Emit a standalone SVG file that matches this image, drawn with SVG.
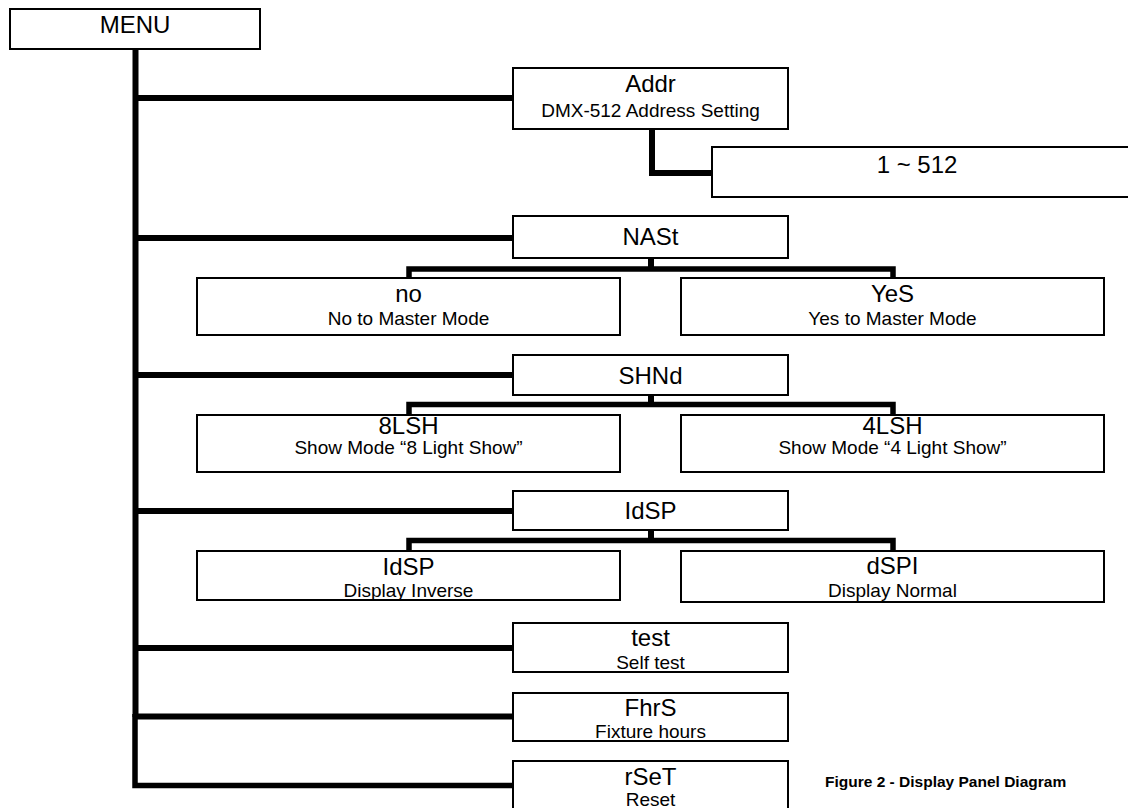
<svg xmlns="http://www.w3.org/2000/svg" width="1128" height="808" viewBox="0 0 1128 808">
<style>
.box{fill:#fff;stroke:#000;stroke-width:2}
.t{font-family:"Liberation Sans",Arial,sans-serif;font-size:24px;fill:#000;text-anchor:middle}
.s{font-family:"Liberation Sans",Arial,sans-serif;font-size:19px;fill:#000;text-anchor:middle}
.c{fill:none;stroke:#000;stroke-width:6;stroke-linecap:butt;stroke-linejoin:miter}
.cap{font-family:"Liberation Sans",Arial,sans-serif;font-size:15.5px;font-weight:bold;fill:#000}
</style>
<rect width="1128" height="808" fill="#fff"/>
<g id="connectors">
<path class="c" d="M135.5,49 V717"/>
<path class="c" style="stroke-width:5.5" d="M135,714 V785.5 H513"/>
<path class="c" d="M135,98 H513"/>
<path class="c" d="M135,238 H513"/>
<path class="c" d="M135,375 H513"/>
<path class="c" d="M135,511 H513"/>
<path class="c" d="M135,648 H513"/>
<path class="c" d="M135,716.5 H513"/>
<path class="c" d="M652,129 V173 H712"/>
<path class="c" d="M651,258 V269"/>
<path class="c" style="stroke-width:5.5" d="M409,278 V269 H893 V278"/>
<path class="c" d="M651,395 V404.5"/>
<path class="c" style="stroke-width:5.5" d="M409,415 V404.5 H893 V415"/>
<path class="c" d="M651,530 V540.5"/>
<path class="c" style="stroke-width:5.5" d="M409,551 V540.5 H893 V551"/>
</g>
<g id="menu"><rect class="box" x="10" y="9" width="250" height="40"/><text class="t" x="135" y="33">MENU</text></g>
<g id="addr"><rect class="box" x="513" y="68" width="275" height="61"/><text class="t" x="650.5" y="92">Addr</text><text class="s" x="650.5" y="117">DMX-512 Address Setting</text></g>
<g id="addr-range"><rect class="box" x="712" y="147" width="430" height="50"/><text class="t" x="917" y="173">1 ~ 512</text></g>
<g id="nast"><rect class="box" x="513" y="216" width="275" height="42"/><text class="t" x="650.5" y="245">NASt</text></g>
<g id="nast-no"><rect class="box" x="197" y="278" width="423" height="57"/><text class="t" x="408.5" y="302">no</text><text class="s" x="408.5" y="325">No to Master Mode</text></g>
<g id="nast-yes"><rect class="box" x="681" y="278" width="423" height="57"/><text class="t" x="892.5" y="302">YeS</text><text class="s" x="892.5" y="325">Yes to Master Mode</text></g>
<g id="shnd"><rect class="box" x="513" y="355" width="275" height="40"/><text class="t" x="650.5" y="384">SHNd</text></g>
<g id="shnd-8"><rect class="box" x="197" y="415" width="423" height="57"/><text class="t" x="408.5" y="434">8LSH</text><text class="s" x="408.5" y="454">Show Mode “8 Light Show”</text></g>
<g id="shnd-4"><rect class="box" x="681" y="415" width="423" height="57"/><text class="t" x="892.5" y="434">4LSH</text><text class="s" x="892.5" y="454">Show Mode “4 Light Show”</text></g>
<g id="idsp"><rect class="box" x="513" y="491" width="275" height="39"/><text class="t" x="650.5" y="519">IdSP</text></g>
<g id="idsp-inv"><rect class="box" x="197" y="551" width="423" height="49"/><text class="t" x="408.5" y="575">IdSP</text><text class="s" x="408.5" y="597">Display Inverse</text></g>
<g id="idsp-norm"><rect class="box" x="681" y="551" width="423" height="51"/><text class="t" x="892.5" y="574">dSPI</text><text class="s" x="892.5" y="597">Display Normal</text></g>
<g id="test"><rect class="box" x="513" y="623" width="275" height="49"/><text class="t" x="650.5" y="646">test</text><text class="s" x="650.5" y="669">Self test</text></g>
<g id="fhrs"><rect class="box" x="513" y="693" width="275" height="48"/><text class="t" x="650.5" y="716">FhrS</text><text class="s" x="650.5" y="738">Fixture hours</text></g>
<g id="rset"><rect class="box" x="513" y="761" width="275" height="70"/><text class="t" x="650.5" y="785">rSeT</text><text class="s" x="650.5" y="806">Reset</text></g>
<text class="cap" x="825" y="787">Figure 2 - Display Panel Diagram</text>
</svg>
